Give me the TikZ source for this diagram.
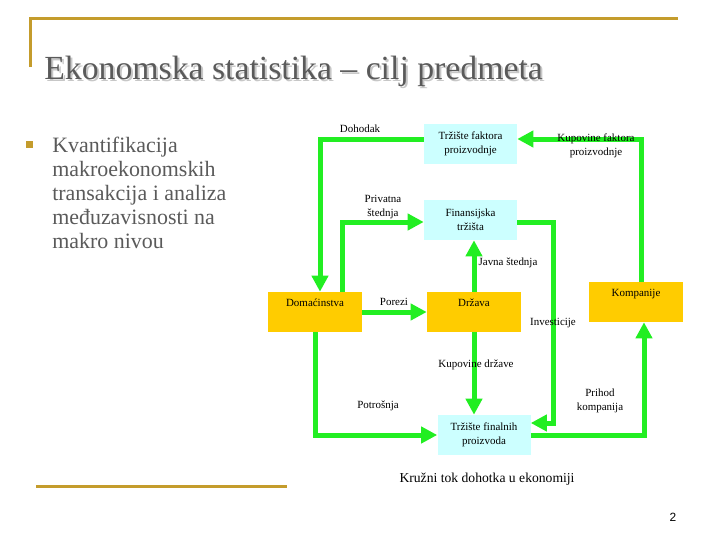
\documentclass[tikz,border=0pt]{standalone}
\usepackage{fontspec}
\setmainfont{Liberation Serif}
\setsansfont{Liberation Sans}
\usetikzlibrary{arrows.meta, positioning}

\definecolor{flowgreen}{RGB}{34,238,34}
\definecolor{boxcyan}{RGB}{204,255,255}
\definecolor{boxorange}{RGB}{255,204,0}
\definecolor{slidegold}{RGB}{196,156,44}
\definecolor{slidegray}{RGB}{90,90,90}

\begin{document}
\begin{tikzpicture}[
    x=0.25mm, y=-0.25mm,
    market/.style={rectangle, fill=boxcyan, minimum width=23.25mm, minimum height=10mm, inner sep=0pt, align=center, font=\fontsize{7.8}{10}\selectfont},
    sector/.style={rectangle, fill=boxorange, minimum width=23.5mm, inner sep=0pt, text height=3.6mm, text depth=6.4mm, font=\fontsize{7.8}{10}\selectfont},
    flow/.style={-{Triangle[length=4mm, width=4mm]}, line width=1.25mm, flowgreen},
    lbl/.style={font=\fontsize{7.8}{10}\selectfont, align=center, inner sep=0pt},
    rule/.style={slidegold, line width=0.75mm}
]
    \useasboundingbox (0,0) rectangle (720,540);

    % slide frame and title
    \draw[rule] (30,67) -- (30,18) -- (678,18);
    \draw[rule] (36,486) -- (287,486);
    \node[anchor=base west, inner sep=0pt, text=black!22, font=\fontsize{24}{28}\selectfont] (shadow) at (46,81) {Ekonomska statistika – cilj predmeta};
    \node[anchor=base west, inner sep=0pt, text=slidegray, font=\fontsize{24}{28}\selectfont] (title) at (44,79) {Ekonomska statistika – cilj predmeta};

    % bullet text (base = last line)
    \node[fill=slidegold, minimum size=1.75mm, inner sep=0pt] (bullet) at (29.5,144.5) {};
    \node[anchor=base west, inner sep=0pt, align=left, text=slidegray, font=\fontsize{15.6}{17.07}\selectfont] (point) at (52,248) {Kvantifikacija\\makroekonomskih\\transakcija i analiza\\međuzavisnosti na\\makro nivou};

    % markets and sectors
    \node[market] (tfp) at (470.5,144) {Tržište faktora\\proizvodnje};
    \node[market] (fin) at (470.5,220) {Finansijska\\tržišta};
    \node[sector] (dom) at (315,312) {Domaćinstva};
    \node[sector] (drz) at (474,312) {Država};
    \node[sector] (komp) at (636,302) {Kompanije};
    \node[market] (tfin) at (484,435) {Tržište finalnih\\proizvoda};

    % flows
    \draw[flow] ([yshift=1.25mm]tfp.west) -| ([xshift=1.25mm]dom.north);
    \draw[flow] ([xshift=1.25mm]komp.north) |- ([yshift=1.25mm]tfp.east);
    \draw[flow] ([xshift=6.75mm]dom.north) |- ([yshift=-0.5mm]fin.west);
    \draw[flow] ([yshift=-0.5mm]fin.east) -- ++(36,0) |- ([yshift=3mm]tfin.east);
    \draw[flow] (drz.north) -- (drz.north |- fin.south);
    \draw[flow] (dom.east) -- (drz.west);
    \draw[flow] (drz.south) -- (drz.south |- tfin.north);
    \draw[flow] (dom.south) |- (tfin.west);
    \draw[flow] (tfin.east) -| ([xshift=2mm]komp.south);

    % flow labels
    \node[lbl] (dohodak) at (360,129) {Dohodak};
    \node[lbl] (kupfak) at (596,146) {Kupovine faktora\\proizvodnje};
    \node[lbl] (privst) at (383,207) {Privatna\\štednja};
    \node[lbl] (javst) at (508,263) {Javna štednja};
    \node[lbl] (porezi) at (394,302) {Porezi};
    \node[lbl] (invest) at (553,323) {Investicije};
    \node[lbl] (kupdrz) at (476,365) {Kupovine države};
    \node[lbl] (potr) at (378,406) {Potrošnja};
    \node[lbl] (prihod) at (600,401) {Prihod\\kompanija};
    \node[lbl, font=\fontsize{9.7}{12}\selectfont] (caption) at (487,479) {Kružni tok dohotka u ekonomiji};
    \node[inner sep=0pt, font=\sffamily\fontsize{8.5}{10}\selectfont] (pagenum) at (673,517) {2};
\end{tikzpicture}
\end{document}
